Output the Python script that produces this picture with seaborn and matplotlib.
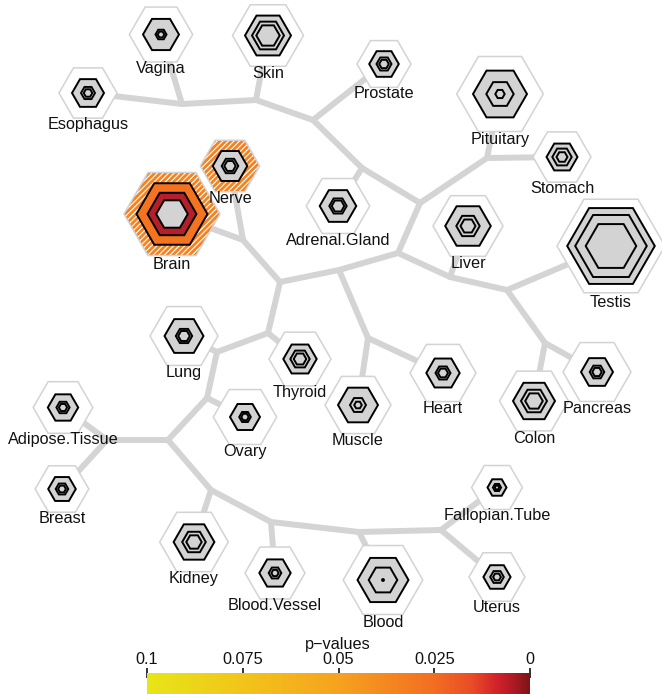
import numpy as np
import pandas as pd
import matplotlib
matplotlib.use("Agg")
import matplotlib.pyplot as plt
import seaborn as sns
from matplotlib.patches import RegularPolygon
from matplotlib.colors import LinearSegmentedColormap, Normalize
from matplotlib.cm import ScalarMappable

# ---------------- data ----------------
tissues = ["Vagina", "Skin", "Esophagus", "Prostate", "Pituitary", "Stomach",
           "Nerve", "Brain", "Adrenal.Gland", "Liver", "Testis", "Lung",
           "Thyroid", "Muscle", "Heart", "Pancreas", "Colon", "Adipose.Tissue",
           "Ovary", "Breast", "Fallopian.Tube", "Kidney", "Blood.Vessel",
           "Blood", "Uterus"]
tissue_x = [161, 268, 88, 384, 500, 562, 230, 172, 338, 468, 611, 184,
            300, 358, 443, 597, 534, 63, 245, 62, 497, 194, 275, 383, 497]
tissue_y = [34.5, 35.5, 93, 64, 94, 157, 166, 214, 206, 226, 246, 336,
            359, 405, 373, 372, 401, 407.5, 417, 489, 487.5, 542, 573, 580, 577]
# outer hexagon size and the three nested levels
outer_r = [31.7, 35.5, 29, 27, 43.3, 29, 29.7, 48, 31.7, 35, 54, 34,
           31, 33, 33, 34, 34.5, 29.8, 31.7, 26.8, 25.4, 34.3, 30, 39.8, 28]
level1_r = [18, 23, 16, 14.8, 27, 15.5, 17.3, 35.5, 18.3, 22.8, 43.8, 19.5,
            16.7, 20, 16.7, 16, 21, 15.2, 15, 13.8, 9.5, 20.4, 15.7, 25.5, 13.6]
level2_r = [5.5, 16, 7, 7.5, 13.7, 9.7, 8.3, 24.5, 8.7, 11.7, 35.8, 8.2,
            9.7, 8, 7.5, 7.3, 13, 6.6, 5.8, 6.3, 4.1, 11.8, 6.3, 14.3, 6.8]
level3_r = [3.3, 11.7, 4.3, 4.8, 4.7, 5.5, 5.7, 15.8, 6.3, 7.5, 25.3, 5.8,
            6.3, 3.8, 5, 4.7, 8.8, 4.1, 3.7, 3.9, 2.2, 7.7, 3.6, 1.0, 3.9]
# significance coloring
hatched = ["Brain", "Nerve"]
level1_color = {"Brain": "#f37321"}
level2_color = {"Brain": "#b3202a"}

# internal branch points of the tree
junctions = ["A", "B", "C", "AJ", "D", "PJ", "E", "LJ", "F", "G", "EH", "I",
             "H", "BN", "J", "K", "L", "M", "N", "O", "P", "Q", "R"]
junction_x = [182, 256, 313, 362, 420, 487, 398, 450, 507, 545, 339, 368,
              280, 243, 268, 217, 207, 168, 107, 211, 271, 359, 441]
junction_y = [104, 100, 120, 168, 203, 158, 253, 277, 290, 343, 270, 338,
              282, 240, 333, 352, 398, 440, 440, 490, 522, 532, 530]

edges = [("Esophagus", "A"), ("Vagina", "A"), ("A", "B"), ("Skin", "B"),
         ("B", "C"), ("Prostate", "C"), ("C", "AJ"), ("AJ", "Adrenal.Gland"),
         ("AJ", "D"), ("D", "PJ"), ("PJ", "Pituitary"), ("PJ", "Stomach"),
         ("D", "E"), ("E", "LJ"), ("LJ", "Liver"), ("LJ", "F"),
         ("F", "Testis"), ("F", "G"), ("G", "Colon"), ("G", "Pancreas"),
         ("E", "EH"), ("EH", "I"), ("I", "Muscle"), ("I", "Heart"),
         ("EH", "H"), ("H", "BN"), ("BN", "Brain"), ("BN", "Nerve"),
         ("H", "J"), ("J", "Thyroid"), ("J", "K"), ("K", "Lung"),
         ("K", "L"), ("L", "Ovary"), ("L", "M"), ("M", "N"),
         ("N", "Adipose.Tissue"), ("N", "Breast"), ("M", "O"),
         ("O", "Kidney"), ("O", "P"), ("P", "Blood.Vessel"), ("P", "Q"),
         ("Q", "Blood"), ("Q", "R"), ("R", "Fallopian.Tube"), ("R", "Uterus")]

cbar_ticks = [0.1, 0.075, 0.05, 0.025, 0.0]
cbar_labels = ["0.1", "0.075", "0.05", "0.025", "0"]

# ---------------- style ----------------
sns.set_theme(style="white")
plt.rcParams["font.family"] = ["Liberation Sans", "DejaVu Sans"]
plt.rcParams["hatch.linewidth"] = 2.0

W, H = 662, 694
fig = plt.figure(figsize=(W / 100, H / 100), dpi=100)
ax = fig.add_axes([0, 0, 1, 1])

pos = {}
for n, x, y in zip(tissues, tissue_x, tissue_y):
    pos[n] = (x, y)
for n, x, y in zip(junctions, junction_x, junction_y):
    pos[n] = (x, y)

rows = []
for i, (a, b) in enumerate(edges):
    for n in (a, b):
        rows.append({"edge": i, "x": pos[n][0], "y": pos[n][1]})
edf = pd.DataFrame(rows)
sns.lineplot(data=edf, x="x", y="y", units="edge", estimator=None, sort=False,
             color="#d4d4d4", lw=4.3, solid_capstyle="round",
             solid_joinstyle="round", ax=ax, zorder=1, legend=False)

LIGHT = "#d3d3d3"
ORI = np.pi / 6
for i, n in enumerate(tissues):
    cx, cy = tissue_x[i], tissue_y[i]
    if n in hatched:
        ax.add_patch(RegularPolygon((cx, cy), 6, radius=outer_r[i], orientation=ORI,
                                    facecolor="white", edgecolor="#f5821f",
                                    hatch="//////", lw=0, zorder=2))
        ax.add_patch(RegularPolygon((cx, cy), 6, radius=outer_r[i], orientation=ORI,
                                    fill=False, edgecolor=LIGHT, lw=1.1, zorder=2.1))
    else:
        ax.add_patch(RegularPolygon((cx, cy), 6, radius=outer_r[i], orientation=ORI,
                                    facecolor="white", edgecolor=LIGHT, lw=1.1, zorder=2))
    for k, (rr, cmap_d) in enumerate([(level1_r[i], level1_color),
                                      (level2_r[i], level2_color),
                                      (level3_r[i], {})]):
        fc = cmap_d.get(n, LIGHT)
        ax.add_patch(RegularPolygon((cx, cy), 6, radius=rr, orientation=ORI,
                                    facecolor=fc, edgecolor="black",
                                    lw=1.4, zorder=3 + k))
    ax.text(cx, cy + outer_r[i] + 2.5, n, ha="center", va="center",
            fontsize=11.7, color="#111111", zorder=10)

ax.set_xlim(0, W)
ax.set_ylim(H, 0)
ax.set_axis_off()

# ---------------- colorbar ----------------
cmap = LinearSegmentedColormap.from_list(
    "pv", [(0.0, "#7a1416"), (0.04, "#ab1a22"), (0.08, "#cf1f2a"),
           (0.15, "#ea4b26"), (0.25, "#f26e22"), (0.5, "#f6a21e"),
           (0.75, "#f2c41a"), (1.0, "#e6e617")])
cax = fig.add_axes([147 / W, 0, (530 - 147) / W, 21 / H])
sm = ScalarMappable(norm=Normalize(0, 0.1), cmap=cmap)
cb = fig.colorbar(sm, cax=cax, orientation="horizontal")
cax.set_xlim(0.1, 0)
cb.set_ticks(cbar_ticks)
cb.set_ticklabels(cbar_labels)
cax.xaxis.set_ticks_position("top")
cb.outline.set_visible(False)
cax.tick_params(axis="x", direction="inout", length=7.5, width=1.2,
                pad=0.5, labelsize=11.7, colors="#111111")
fig.text(338 / W, 1 - 645 / H, "p\u2212values", ha="center", va="center",
         fontsize=11.7, color="#111111")

fig.savefig("out.png", dpi=100)
